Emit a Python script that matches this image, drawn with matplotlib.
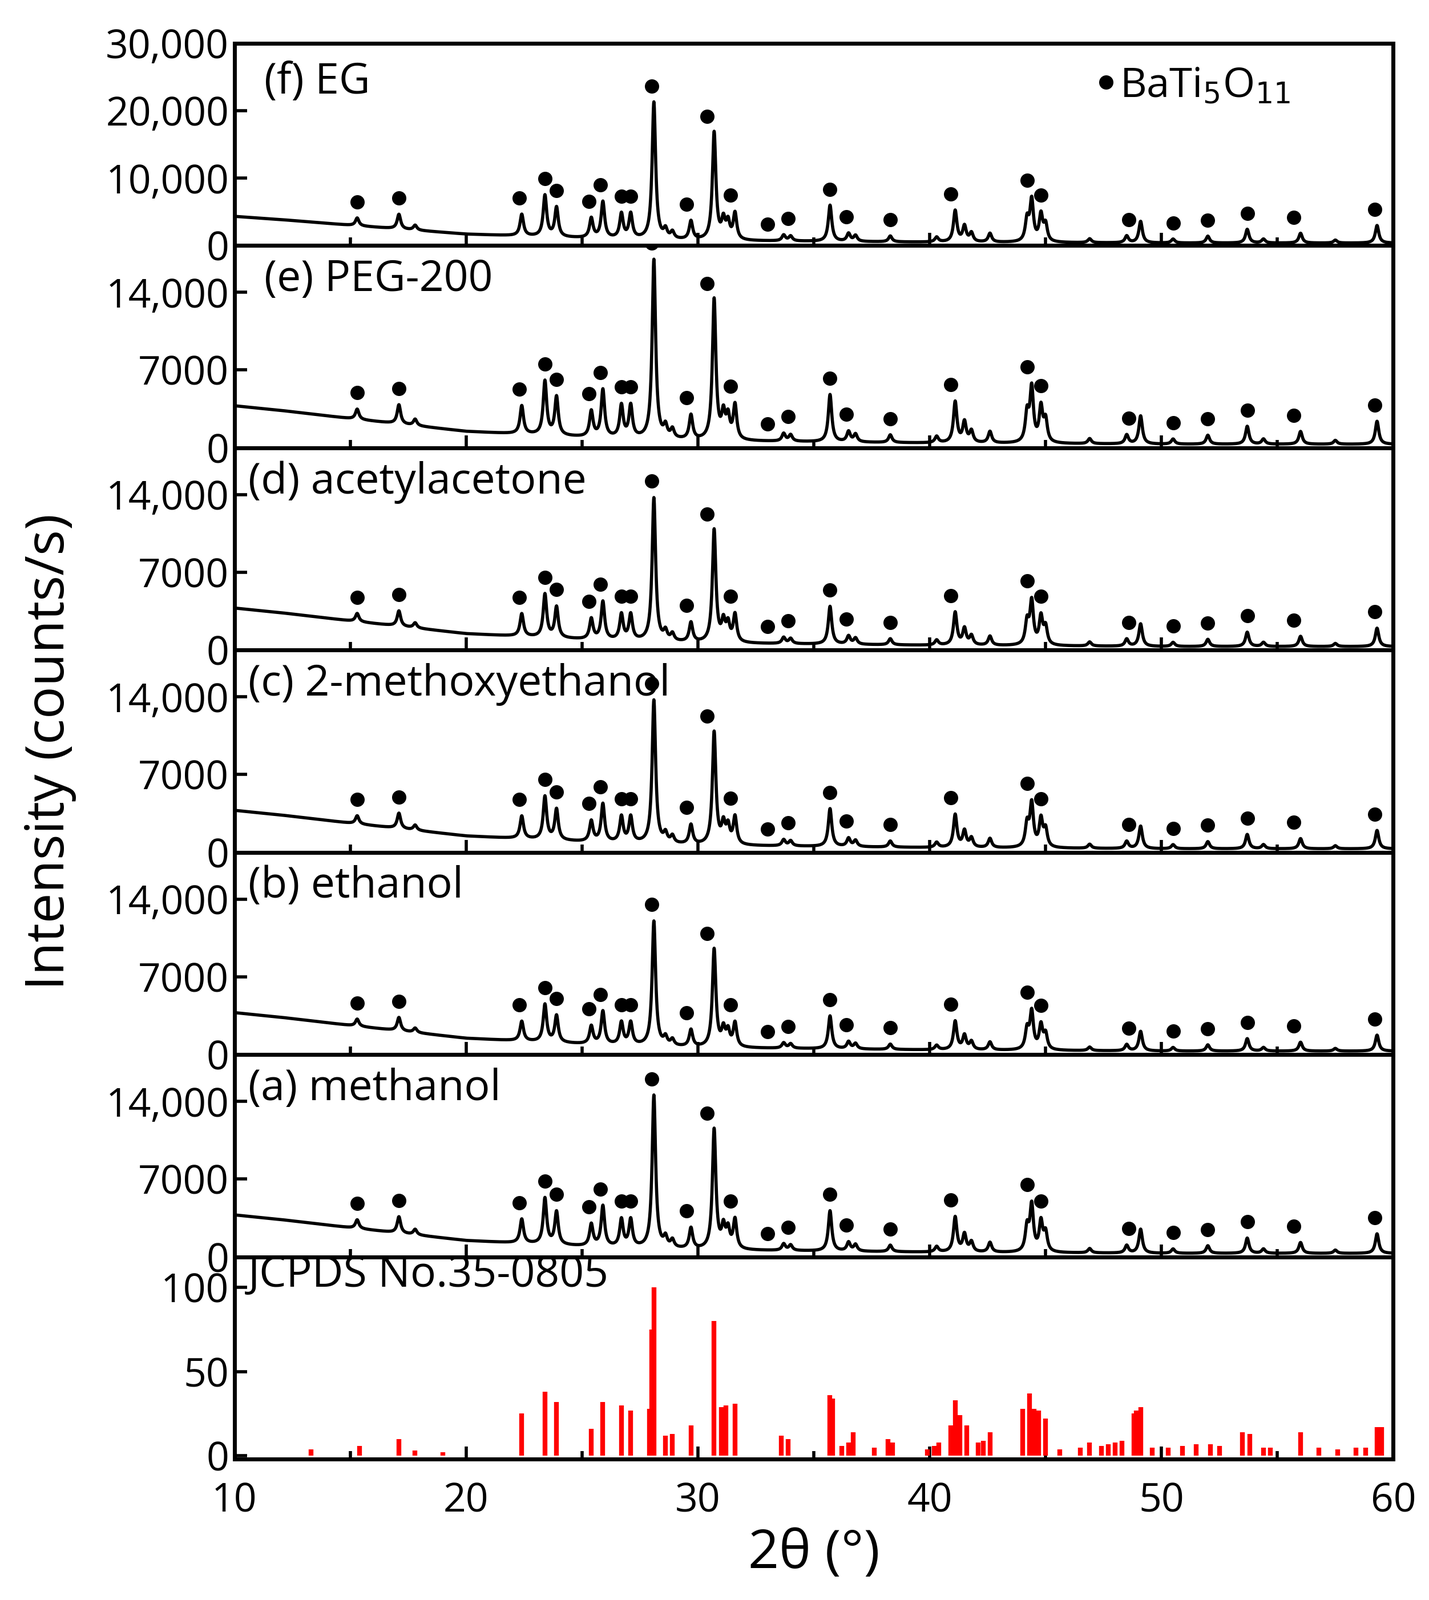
import numpy as np
import matplotlib.pyplot as plt

plt.rcParams['font.family'] = 'Open Sans'

# peak positions (deg) and heights (x1000 counts) for the methanol-like base pattern
peak_pos = [15.3, 17.1, 17.8, 22.4, 23.4, 23.9, 25.4, 25.9, 26.7, 27.1, 28.1, 28.6, 28.9, 29.7,
            30.7, 31.1, 31.3, 31.6, 33.7, 34.0, 35.7, 36.5, 36.8, 38.3, 40.3, 41.1, 41.5, 41.8,
            42.6, 44.2, 44.4, 44.8, 45.0, 46.9, 48.5, 49.1, 50.5, 52.0, 53.7, 54.4, 56.0, 57.5, 59.3]
peak_h = [0.8, 1.5, 0.5, 2.2, 4.2, 3.0, 2.0, 3.7, 2.5, 2.5, 14.0, 0.9, 0.7, 1.9,
          11.0, 1.9, 1.7, 2.7, 0.6, 0.5, 3.7, 0.8, 0.6, 0.6, 0.5, 3.2, 1.6, 0.9,
          0.9, 2.2, 4.2, 2.7, 1.7, 0.4, 0.7, 2.2, 0.4, 0.7, 1.4, 0.4, 1.0, 0.3, 1.8]
bg_x = [10, 12, 15, 20, 25, 30, 40, 50, 60]
bg_y = [3.6, 3.2, 2.5, 1.4, 0.9, 0.6, 0.4, 0.3, 0.3]

labels = ['(f) EG', '(e) PEG-200', '(d) acetylacetone', '(c) 2-methoxyethanol', '(b) ethanol', '(a) methanol']
scales = [1.45, 1.15, 0.92, 0.92, 0.8, 0.98]
bg_scales = [1.2, 1.05, 1.05, 1.05, 1.05, 1.05]

dot_x = [15.3, 17.1, 22.3, 23.4, 23.9, 25.3, 25.8, 26.7, 27.1, 28.0, 29.5, 30.4, 31.4, 33.0, 33.9,
         35.7, 36.4, 38.3, 40.9, 44.2, 44.8, 48.6, 50.5, 52.0, 53.7, 55.7, 59.2]

# JCPDS No.35-0805 reference lines
ref_pos = [13.3, 15.4, 17.1, 17.8, 19.0, 22.4, 23.4, 23.9, 25.4, 25.9, 26.7, 27.1, 27.9, 28.0, 28.1,
           28.6, 28.9, 29.7, 30.7, 31.0, 31.2, 31.6, 33.6, 33.9, 35.7, 35.8, 36.2, 36.5, 36.7, 37.6,
           38.2, 38.4, 39.9, 40.2, 40.4, 40.9, 41.1, 41.3, 41.6, 42.1, 42.3, 42.6, 44.0, 44.3, 44.5,
           44.7, 45.0, 45.6, 46.5, 46.9, 47.4, 47.7, 48.0, 48.3, 48.8, 48.9, 49.1, 49.6, 50.3, 50.9,
           51.5, 52.1, 52.5, 53.5, 53.8, 54.4, 54.7, 56.0, 56.8, 57.6, 58.4, 58.8, 59.3, 59.5]
ref_int = [4, 6, 10, 3, 2, 25, 38, 32, 16, 32, 30, 27, 28, 75, 100,
           12, 13, 18, 80, 29, 30, 31, 12, 10, 36, 34, 6, 8, 14, 5,
           10, 8, 4, 6, 8, 18, 33, 24, 18, 8, 9, 14, 28, 37, 28,
           27, 22, 4, 5, 8, 6, 7, 8, 9, 25, 27, 29, 5, 5, 6,
           7, 7, 6, 14, 13, 5, 5, 14, 5, 4, 5, 5, 17, 17]

x = np.linspace(10, 60, 5001)
gam = 0.09

fig = plt.figure(figsize=(12.52, 14.02), dpi=200)
axes = fig.subplots(7, 1, sharex=True, gridspec_kw=dict(hspace=0))
fig.subplots_adjust(left=0.164, right=0.975, top=0.973, bottom=0.088)

for i, ax in enumerate(axes[:6]):
    y = np.interp(x, bg_x, bg_y) * bg_scales[i]
    for p, h in zip(peak_pos, peak_h):
        y = y + h * scales[i] / (1 + ((x - p) / gam) ** 2)
    y = y * 1000
    ax.plot(x, y, color='black', lw=2)
    ymax = 29500 if i == 0 else 18200
    dys = []
    for d in dot_x:
        m = (x > d - 0.3) & (x < d + 0.3)
        dys.append(y[m].max() + 0.08 * ymax)
    ax.plot(dot_x, dys, 'o', color='black', ms=8)
    ax.set_ylim(0, ymax)
    if i == 0:
        ax.set_yticks([0, 10000, 20000, 30000])
        ax.set_yticklabels(['0', '10,000', '20,000', '30,000'])
        ax.text(11.3, 0.82 * ymax, labels[i], fontsize=27, va='center')
        ax.plot([47.6], [0.82 * ymax], 'o', color='black', ms=8)
        ax.text(48.2, 0.80 * ymax, 'BaTi$_5$O$_{11}$', fontsize=26, va='center')
    else:
        ax.set_yticks([0, 7000, 14000])
        ax.set_yticklabels(['0', '7000', '14,000'])
        ax.text(10.6 if i > 1 else 11.3, 0.83 * ymax, labels[i], fontsize=27, va='center')

ax = axes[6]
ax.vlines(ref_pos, 0, ref_int, color='red', lw=3)
ax.set_ylim(-2, 118)
ax.set_yticks([0, 50, 100])
ax.text(10.6, 107, 'JCPDS No.35-0805', fontsize=27, va='center')

for ax in axes:
    ax.set_xlim(10, 60)
    ax.set_xticks([10, 20, 30, 40, 50, 60])
    ax.set_xticks([15, 25, 35, 45, 55], minor=True)
    ax.tick_params(direction='in', which='both', labelsize=25, width=2, length=8, top=False)
    ax.tick_params(which='minor', length=5)
    for s in ax.spines.values():
        s.set_linewidth(2.5)
axes[6].tick_params(axis='x', pad=14)

axes[6].set_xlabel('2θ (°)', fontsize=34)
fig.text(0.035, 0.53, 'Intensity (counts/s)', rotation=90, fontsize=34, ha='center', va='center')

fig.savefig('out.png', dpi=200)
